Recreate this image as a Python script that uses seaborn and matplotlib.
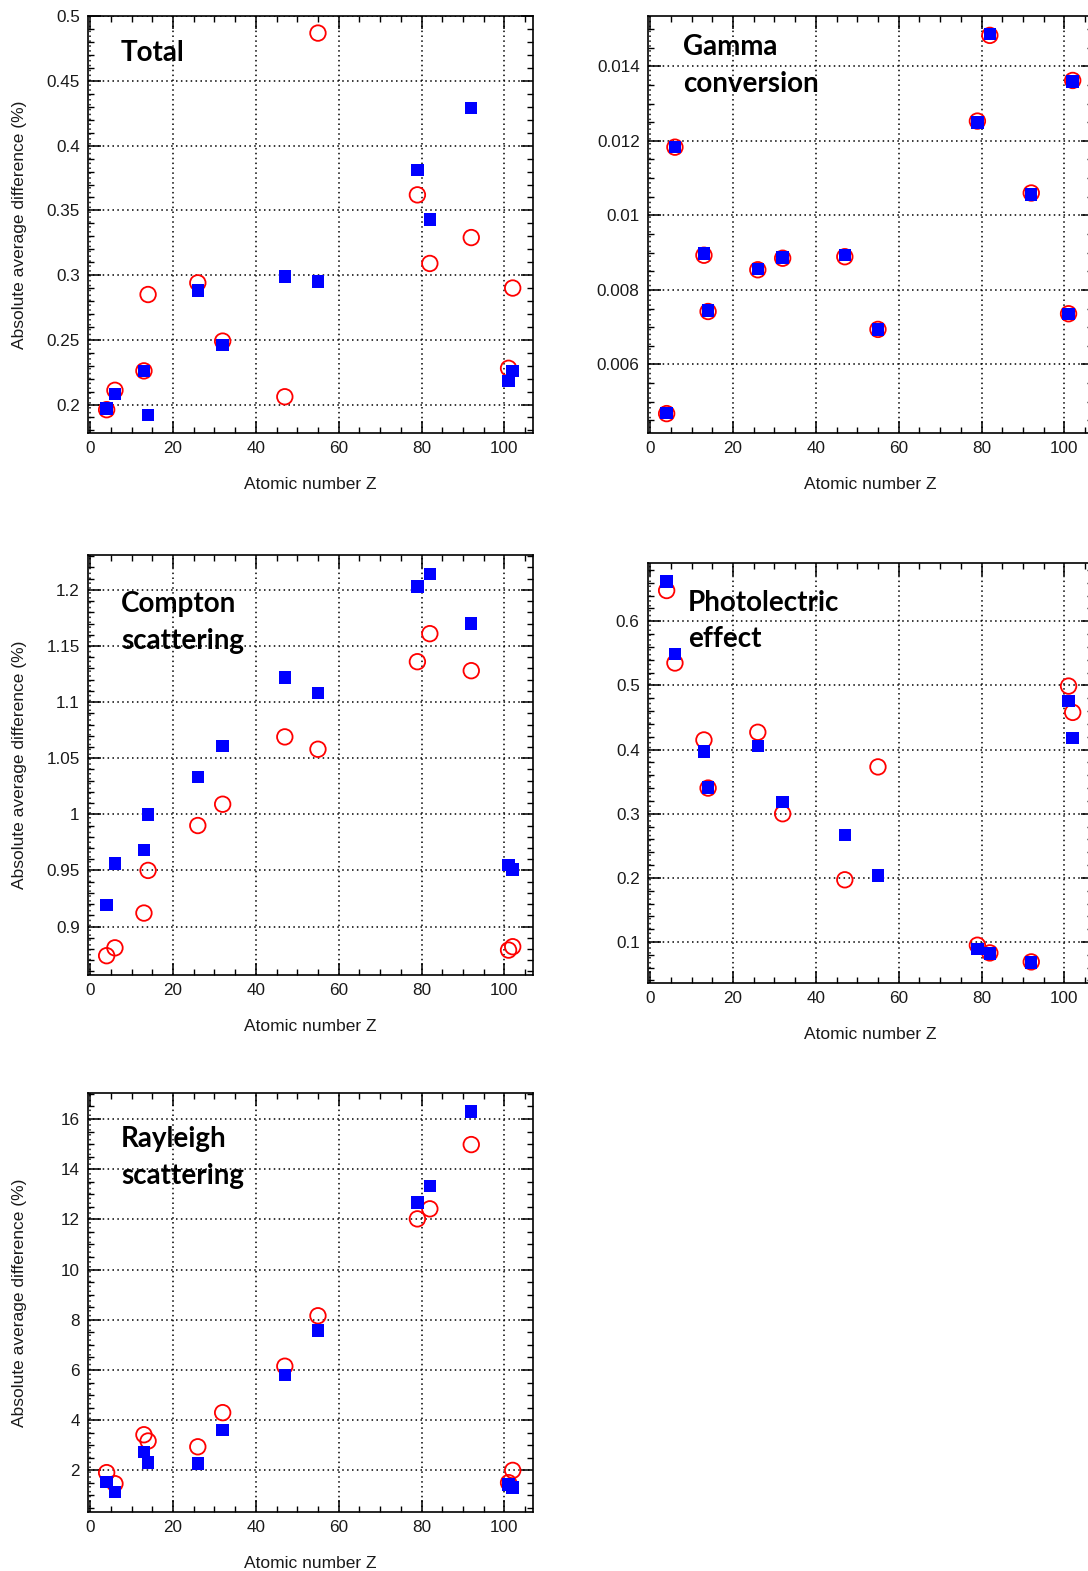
import matplotlib
matplotlib.use("Agg")
import matplotlib.pyplot as plt
from matplotlib.ticker import MultipleLocator, FuncFormatter
import seaborn as sns
import pandas as pd

# Atomic numbers of the studied materials
z_values = [4, 6, 13, 14, 26, 32, 47, 55, 79, 82, 92, 101, 102]

# Absolute average difference (%) for each interaction process
total_blue = [0.197, 0.208, 0.226, 0.192, 0.288, 0.246, 0.299, 0.295, 0.381, 0.343, 0.429, 0.218, 0.226]
total_red = [0.196, 0.211, 0.226, 0.285, 0.294, 0.249, 0.206, 0.487, 0.362, 0.309, 0.329, 0.228, 0.290]

gamma_blue = [0.00469, 0.01184, 0.00898, 0.00745, 0.00856, 0.00887, 0.00893, 0.00694, 0.01249, 0.01486, 0.01056, 0.00736, 0.01359]
gamma_red = [0.00468, 0.01183, 0.00893, 0.00742, 0.00854, 0.00885, 0.00889, 0.00694, 0.01253, 0.01483, 0.01060, 0.00736, 0.01362]

compton_blue = [0.919, 0.956, 0.968, 1.000, 1.033, 1.061, 1.122, 1.108, 1.203, 1.214, 1.170, 0.955, 0.951]
compton_red = [0.874, 0.881, 0.912, 0.950, 0.990, 1.009, 1.069, 1.058, 1.136, 1.161, 1.128, 0.879, 0.882]

photo_blue = [0.662, 0.549, 0.397, 0.341, 0.406, 0.318, 0.267, 0.204, 0.089, 0.082, 0.068, 0.476, 0.418]
photo_red = [0.648, 0.535, 0.415, 0.340, 0.427, 0.300, 0.197, 0.373, 0.095, 0.083, 0.069, 0.499, 0.458]

rayleigh_blue = [1.54, 1.14, 2.73, 2.31, 2.27, 3.62, 5.81, 7.57, 12.68, 13.33, 16.30, 1.43, 1.31]
rayleigh_red = [1.91, 1.47, 3.42, 3.17, 2.94, 4.30, 6.15, 8.16, 12.02, 12.42, 14.98, 1.51, 2.00]

panel_titles = ["Total", "Gamma\nconversion", "Compton\nscattering", "Photolectric\neffect", "Rayleigh\nscattering"]
x_label = "Atomic number Z"
y_label = "Absolute average difference (%)"

sns.set_theme(style="ticks")
plt.rcParams["font.family"] = ["Liberation Sans", "DejaVu Sans"]

W, H = 1088, 1571
fig = plt.figure(figsize=(W / 100, H / 100), dpi=100)


def rect(left, top, right, bottom):
    return [left / W, 1 - bottom / H, (right - left) / W, (bottom - top) / H]


panels = [
    dict(title=panel_titles[0], blue=total_blue, red=total_red, box=(88, 16, 533, 433),
         ylim=(0.178, 0.5002), major=0.05, minor=0.01, ylab=True, tx=0.074, ty=0.892),
    dict(title=panel_titles[1], blue=gamma_blue, red=gamma_red, box=(648, 16, 1093, 433),
         ylim=(0.00416, 0.01535), major=0.002, minor=0.0005, ylab=False, tx=0.079, ty=0.906),
    dict(title=panel_titles[2], blue=compton_blue, red=compton_red, box=(88, 555, 533, 975),
         ylim=(0.8568, 1.2311), major=0.05, minor=0.01, ylab=True, tx=0.074, ty=0.864),
    dict(title=panel_titles[3], blue=photo_blue, red=photo_red, box=(648, 563, 1093, 983),
         ylim=(0.0361, 0.6909), major=0.1, minor=0.02, ylab=False, tx=0.09, ty=0.886),
    dict(title=panel_titles[4], blue=rayleigh_blue, red=rayleigh_red, box=(88, 1093, 533, 1512),
         ylim=(0.342, 17.035), major=2, minor=0.5, ylab=True, tx=0.074, ty=0.871),
]

fmt = FuncFormatter(lambda v, pos: f"{round(v, 6):g}")
text_color = "#1a1a1a"

for p in panels:
    ax = fig.add_axes(rect(*p["box"]))
    df = pd.DataFrame({"Z": z_values, "blue": p["blue"], "red": p["red"]})

    # open red circles underneath, filled blue squares on top
    sns.scatterplot(data=df, x="Z", y="red", ax=ax, marker="o", s=125,
                    facecolors="none", edgecolors="#ff0000", linewidths=1.3,
                    legend=False, zorder=3)
    sns.scatterplot(data=df, x="Z", y="blue", ax=ax, marker="s", s=80,
                    color="#0000ff", edgecolor="none", linewidth=0,
                    legend=False, zorder=4)

    ax.set_xlim(-0.5, 106.9)
    ax.set_ylim(*p["ylim"])
    ax.xaxis.set_major_locator(MultipleLocator(20))
    ax.xaxis.set_minor_locator(MultipleLocator(5))
    ax.yaxis.set_major_locator(MultipleLocator(p["major"]))
    ax.yaxis.set_minor_locator(MultipleLocator(p["minor"]))
    ax.yaxis.set_major_formatter(fmt)

    ax.grid(True, which="major", color="black", linestyle=(0, (1, 2.2)), linewidth=1.1)
    ax.set_axisbelow(True)
    for sp in ax.spines.values():
        sp.set_visible(True)
        sp.set_color("black")
        sp.set_linewidth(1.2)

    ax.tick_params(which="both", direction="in", top=True, right=True,
                   colors="black", labelcolor=text_color, labelsize=12.3)
    ax.tick_params(which="major", length=9, width=1.1, pad=6)
    ax.tick_params(which="minor", length=4.5, width=1.0)

    ax.set_xlabel(x_label, fontsize=12.5, color=text_color)
    ax.xaxis.set_label_coords(0.5, -0.105)
    if p["ylab"]:
        ax.set_ylabel(y_label, fontsize=12.5, color=text_color)
        ax.yaxis.set_label_coords(-0.137, 0.5)
    else:
        ax.set_ylabel("")

    lines = p["title"].split("\n")
    box_h = p["box"][3] - p["box"][1]
    for i, line in enumerate(lines):
        ax.text(p["tx"], p["ty"] - i * 36.5 / box_h, line, transform=ax.transAxes,
                fontsize=20, fontweight="bold", family=["Lato", "DejaVu Sans"],
                color="black", ha="left", va="baseline", zorder=5)

fig.savefig("out.png", dpi=100, facecolor="white")
